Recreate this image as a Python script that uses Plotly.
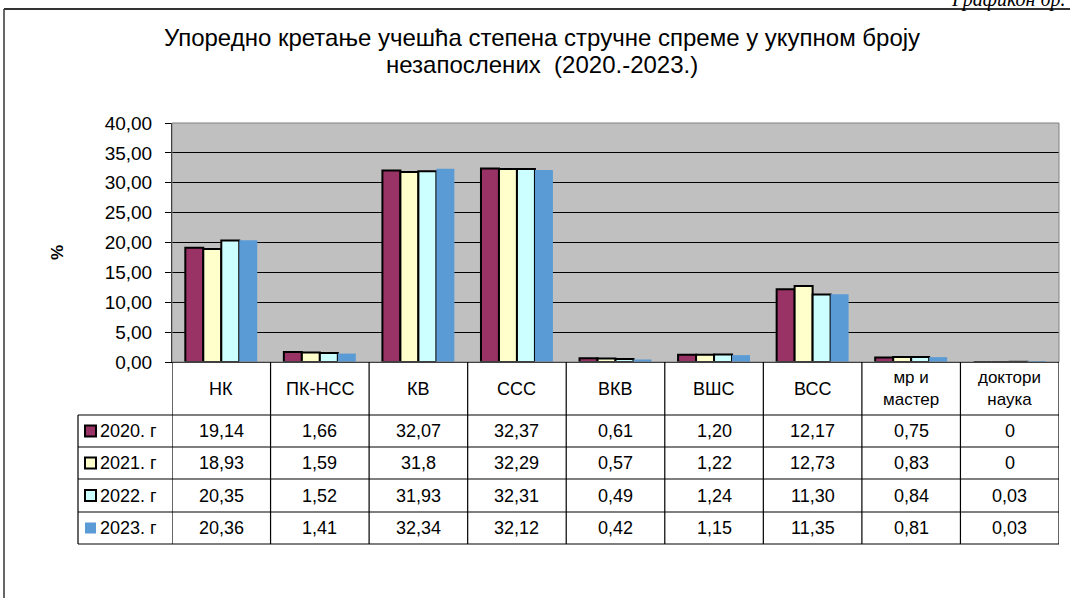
import plotly.graph_objects as go

categories = ["НК", "ПК-НСС", "КВ", "ССС", "ВКВ", "ВШС", "ВСС", "мр и<br>мастер", "доктори<br>наука"]
years = ["2020. г", "2021. г", "2022. г", "2023. г"]
table_2020 = ["19,14", "1,66", "32,07", "32,37", "0,61", "1,20", "12,17", "0,75", "0"]
table_2021 = ["18,93", "1,59", "31,8", "32,29", "0,57", "1,22", "12,73", "0,83", "0"]
table_2022 = ["20,35", "1,52", "31,93", "32,31", "0,49", "1,24", "11,30", "0,84", "0,03"]
table_2023 = ["20,36", "1,41", "32,34", "32,12", "0,42", "1,15", "11,35", "0,81", "0,03"]
y_ticks = [0, 5, 10, 15, 20, 25, 30, 35, 40]
title_lines = ["Упоредно кретање учешћа степена стручне спреме у укупном броју",
               "незапослених  (2020.-2023.)"]

colors = ["#993366", "#FFFFCC", "#CCFFFF", "#5B9BD5"]
outline = [2, 2, 2, 0]
tables = [table_2020, table_2021, table_2022, table_2023]

FONT = "Liberation Sans, Arial, sans-serif"
W, H = 1070, 598
L, R, T, B = 172, 11, 123, 236
PW = W - L - R
PH = H - T - B


def px_x(px):
    return (px - L) / PW


def px_y(py):
    return (H - B - py) / PH


fig = go.Figure()
for name, col, lw, tab in zip(years, colors, outline, tables):
    vals = [float(s.replace(",", ".")) for s in tab]
    fig.add_trace(go.Bar(
        x=list(range(len(categories))), y=vals, name=name,
        marker=dict(color=col, line=dict(color="black", width=lw)),
        showlegend=False,
    ))

shapes = []
annotations = []

# outer frame
shapes.append(dict(type="line", xref="paper", yref="paper", x0=px_x(4), x1=px_x(1075),
                   y0=px_y(9), y1=px_y(9), line=dict(color="#333333", width=2)))
shapes.append(dict(type="line", xref="paper", yref="paper", x0=px_x(4), x1=px_x(4),
                   y0=px_y(9), y1=px_y(605), line=dict(color="#333333", width=1.5)))

# plot border (top/right)
shapes.append(dict(type="rect", xref="paper", yref="paper", x0=0, x1=1, y0=0, y1=1,
                   line=dict(color="#808080", width=1), layer="above"))

# table geometry (pixel rows)
row_edges = [362, 415, 447, 479, 512, 544]
leg_left = 78
n = len(categories)

# vertical column lines
for i in range(n + 1):
    shapes.append(dict(type="line", xref="x", yref="paper", x0=i - 0.5, x1=i - 0.5,
                       y0=px_y(row_edges[0]), y1=px_y(row_edges[-1]),
                       line=dict(color="black", width=1.2)))
# legend column left edge
shapes.append(dict(type="line", xref="paper", yref="paper", x0=px_x(leg_left), x1=px_x(leg_left),
                   y0=px_y(row_edges[1]), y1=px_y(row_edges[-1]),
                   line=dict(color="black", width=1.2)))
# horizontal lines
for py in row_edges[1:]:
    shapes.append(dict(type="line", xref="paper", yref="paper", x0=px_x(leg_left), x1=1,
                       y0=px_y(py), y1=px_y(py), line=dict(color="black", width=1.2)))

# header labels
hy = px_y((row_edges[0] + row_edges[1]) / 2)
for i, c in enumerate(categories):
    annotations.append(dict(x=i, y=hy, xref="x", yref="paper", text=c, showarrow=False,
                            xanchor="center", yanchor="middle",
                            font=dict(family=FONT, size=17 if "<br>" in c else 18, color="black")))

# rows
for r, (name, col, lw, tab) in enumerate(zip(years, colors, outline, tables)):
    cy = (row_edges[r + 1] + row_edges[r + 2]) / 2
    yy = px_y(cy)
    shapes.append(dict(type="rect", xref="paper", yref="paper",
                       x0=px_x(85), x1=px_x(96), y0=px_y(cy + 5.5), y1=px_y(cy - 5.5),
                       fillcolor=col, line=dict(color="black", width=2 if lw else 0)))
    annotations.append(dict(x=px_x(98), y=yy, xref="paper", yref="paper", text=name,
                            xanchor="left", yanchor="middle", showarrow=False,
                            font=dict(family=FONT, size=18, color="black")))
    for i, s in enumerate(tab):
        annotations.append(dict(x=i, y=yy, xref="x", yref="paper", text=s, showarrow=False,
                                xanchor="center", yanchor="middle",
                                font=dict(family=FONT, size=18, color="black")))

# title (two lines)
for line, py in zip(title_lines, [37, 65]):
    annotations.append(dict(x=px_x(542), y=px_y(py), xref="paper", yref="paper",
                            text=line, xanchor="center", yanchor="middle",
                            showarrow=False, font=dict(family=FONT, size=24, color="black")))
# y label
annotations.append(dict(x=px_x(57), y=px_y(253), xref="paper", yref="paper", text="<b>%</b>",
                        xanchor="center", yanchor="middle",
                        textangle=-90, showarrow=False, font=dict(family=FONT, size=17, color="black")))
# top right caption (cut off at the page top, as in the original)
annotations.append(dict(x=px_x(1068), y=px_y(0), xref="paper", yref="paper", text="Графикон бр.",
                        xanchor="right", yanchor="middle", showarrow=False,
                        font=dict(family="Liberation Serif, Times New Roman, serif", size=20,
                                  color="black", style="italic")))

fig.update_layout(
    width=W, height=H,
    margin=dict(l=L, r=R, t=T, b=B),
    paper_bgcolor="white", plot_bgcolor="#C0C0C0",
    barmode="group", bargap=0.27, bargroupgap=0,
    separators=",.",
    font=dict(family=FONT, size=18, color="black"),
    xaxis=dict(range=[-0.5, n - 0.5], showticklabels=False, ticks="", showgrid=False,
               showline=True, linecolor="black", linewidth=1, zeroline=False, fixedrange=True),
    yaxis=dict(range=[0, 40], tickvals=y_ticks, tickformat=".2f", ticks="outside", ticklen=6,
               tickcolor="black", showline=True, linecolor="black", linewidth=1,
               showgrid=True, gridcolor="black", gridwidth=1, zeroline=False,
               ticklabelstandoff=9,
               tickfont=dict(family=FONT, size=19, color="black")),
    shapes=shapes, annotations=annotations,
)

fig.write_html("out.html", config={"displayModeBar": False},
               post_script="document.body.style.margin='0';document.body.style.overflow='hidden';")
